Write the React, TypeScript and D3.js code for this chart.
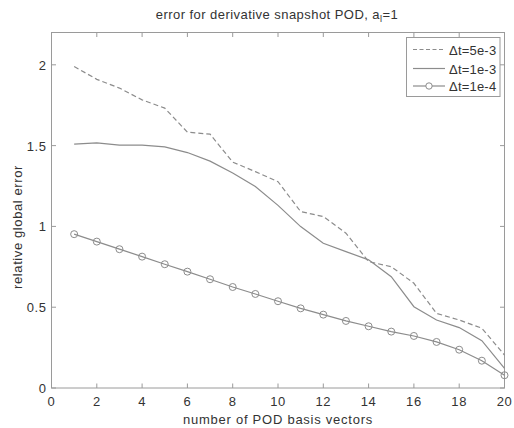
import React, { useEffect, useRef } from 'react';
import * as d3 from 'd3';

const basisCounts = d3.range(1, 21);
const dt5e3 = [1.99, 1.91, 1.856, 1.783, 1.732, 1.583, 1.571, 1.398, 1.339, 1.277,
  1.092, 1.061, 0.958, 0.782, 0.751, 0.648, 0.462, 0.421, 0.37, 0.204];
const dt1e3 = [1.509, 1.517, 1.503, 1.503, 1.492, 1.457, 1.404, 1.331, 1.247, 1.13,
  0.999, 0.896, 0.844, 0.793, 0.689, 0.503, 0.421, 0.374, 0.293, 0.122];
const dt1e4 = [0.952, 0.906, 0.859, 0.813, 0.766, 0.72, 0.673, 0.625, 0.582, 0.537,
  0.493, 0.454, 0.415, 0.382, 0.349, 0.322, 0.285, 0.237, 0.169, 0.079];
const legendLabels = ['\u0394t=5e-3', '\u0394t=1e-3', '\u0394t=1e-4'];
const xTicks = [0, 2, 4, 6, 8, 10, 12, 14, 16, 18, 20];
const yTicks = [0, 0.5, 1, 1.5, 2];

export default function App() {
  const ref = useRef<SVGSVGElement | null>(null);

  useEffect(() => {
    const svg = d3.select(ref.current);
    svg.selectAll('*').remove();
    const W = 514, H = 428;
    const m = { left: 51.5, right: 504.5, top: 32.5, bottom: 388 };
    const font = 'Liberation Sans, Arial, sans-serif';
    const fs = 13;
    const ls = 0.6;
    const axisColor = '#9a9a9a';
    const lineColor = '#8c8c8c';
    const textColor = '#333';

    svg.append('rect').attr('width', W).attr('height', H).attr('fill', '#fff');

    const x = d3.scaleLinear().domain([0, 20]).range([m.left, m.right]);
    const y = d3.scaleLinear().domain([0, 2.2]).range([m.bottom, m.top]);

    // axes box
    svg.append('rect')
      .attr('x', m.left).attr('y', m.top)
      .attr('width', m.right - m.left).attr('height', m.bottom - m.top)
      .attr('fill', 'none').attr('stroke', axisColor).attr('stroke-width', 1);

    const tl = 4.5;
    xTicks.forEach(t => {
      const px = x(t);
      svg.append('line').attr('x1', px).attr('x2', px).attr('y1', m.bottom).attr('y2', m.bottom - tl)
        .attr('stroke', axisColor);
      svg.append('line').attr('x1', px).attr('x2', px).attr('y1', m.top).attr('y2', m.top + tl)
        .attr('stroke', axisColor);
      svg.append('text').attr('x', px).attr('y', 406)
        .attr('text-anchor', 'middle').attr('font-family', font).attr('font-size', fs)
        .attr('letter-spacing', ls).attr('fill', textColor).text(t);
    });
    yTicks.forEach(t => {
      const py = y(t);
      svg.append('line').attr('x1', m.left).attr('x2', m.left + tl).attr('y1', py).attr('y2', py)
        .attr('stroke', axisColor);
      svg.append('line').attr('x1', m.right).attr('x2', m.right - tl).attr('y1', py).attr('y2', py)
        .attr('stroke', axisColor);
      svg.append('text').attr('x', m.left - 5).attr('y', py + 5)
        .attr('text-anchor', 'end').attr('font-family', font).attr('font-size', fs)
        .attr('letter-spacing', ls).attr('fill', textColor).text(t);
    });

    const line = d3.line<number>().x((_, i) => x(basisCounts[i])).y(d => y(d));

    svg.append('path').datum(dt5e3).attr('d', line).attr('fill', 'none')
      .attr('stroke', lineColor).attr('stroke-width', 1.2).attr('stroke-dasharray', '5,3');
    svg.append('path').datum(dt1e3).attr('d', line).attr('fill', 'none')
      .attr('stroke', lineColor).attr('stroke-width', 1.2);
    svg.append('path').datum(dt1e4).attr('d', line).attr('fill', 'none')
      .attr('stroke', lineColor).attr('stroke-width', 1.2);
    svg.selectAll('circle.pt').data(dt1e4).enter().append('circle')
      .attr('class', 'pt')
      .attr('cx', (_, i) => x(basisCounts[i])).attr('cy', d => y(d)).attr('r', 3.5)
      .attr('fill', 'none').attr('stroke', lineColor).attr('stroke-width', 1);

    // legend
    const lg = svg.append('g');
    lg.append('rect').attr('x', 406.5).attr('y', 37.5).attr('width', 93.5).attr('height', 59)
      .attr('fill', '#fff').attr('stroke', axisColor);
    const rows = [49.5, 68.5, 86];
    rows.forEach((ry, i) => {
      const l = lg.append('line').attr('x1', 413).attr('x2', 445).attr('y1', ry).attr('y2', ry)
        .attr('stroke', lineColor).attr('stroke-width', 1.2);
      if (i === 0) l.attr('stroke-dasharray', '4,2.5');
      if (i === 2) lg.append('circle').attr('cx', 429).attr('cy', ry).attr('r', 3.2)
        .attr('fill', '#fff').attr('stroke', lineColor);
      lg.append('text').attr('x', 449).attr('y', ry + 5).attr('font-family', font)
        .attr('font-size', fs).attr('letter-spacing', 0.2).attr('fill', textColor).text(legendLabels[i]);
    });

    // title
    const title = svg.append('text').attr('x', 277).attr('y', 18.5).attr('text-anchor', 'middle')
      .attr('font-family', font).attr('font-size', fs).attr('letter-spacing', 0.45)
      .attr('fill', textColor);
    title.append('tspan').text('error for derivative snapshot POD, a');
    title.append('tspan').attr('font-size', 9).attr('dy', 3).text('l');
    title.append('tspan').attr('dy', -3).text('=1');

    svg.append('text').attr('x', 278).attr('y', 424).attr('text-anchor', 'middle')
      .attr('font-family', font).attr('font-size', fs).attr('letter-spacing', 0.75)
      .attr('fill', textColor).text('number of POD basis vectors');
    svg.append('text').attr('transform', 'translate(22,227) rotate(-90)')
      .attr('text-anchor', 'middle').attr('font-family', font).attr('font-size', fs)
      .attr('letter-spacing', 0.6).attr('fill', textColor).text('relative global error');
  }, []);

  return (
    <svg ref={ref} width={514} height={428}
      style={{ position: 'absolute', left: 0, top: 0, display: 'block' }} />
  );
}
